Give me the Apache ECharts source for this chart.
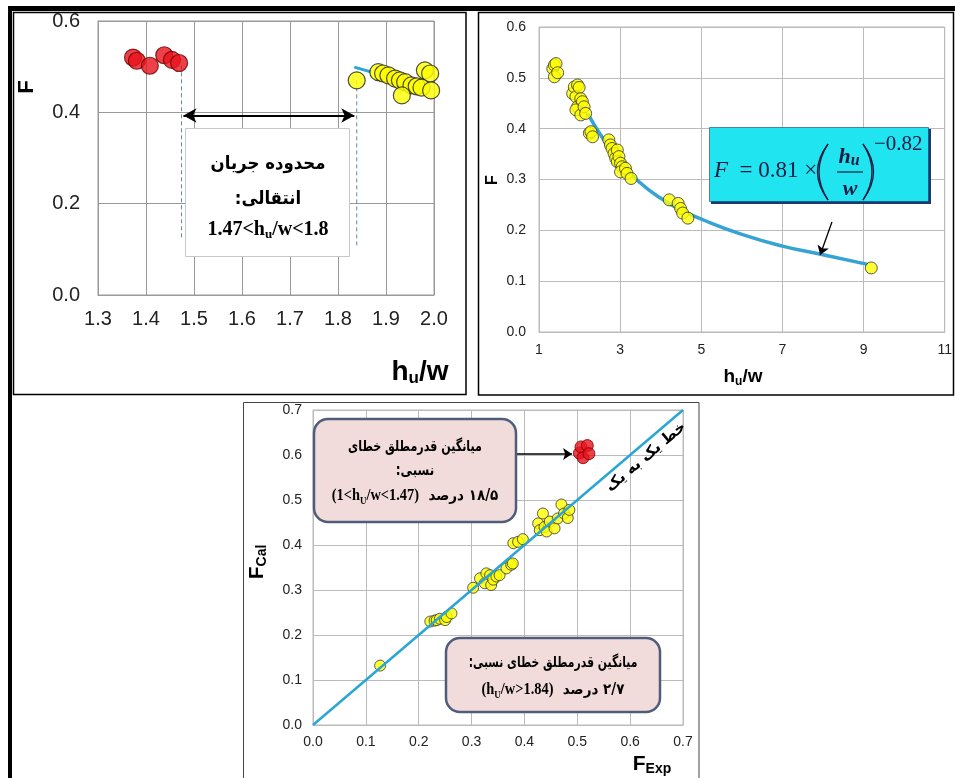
<!DOCTYPE html>
<html><head><meta charset="utf-8">
<script src="https://cdn.jsdelivr.net/npm/echarts@6/dist/echarts.min.js"></script>
<style>html,body{margin:0;padding:0;background:#fff}#c{width:955px;height:778px}</style>
</head><body><div id="c"></div>
<script>
// ---------- Panel 1: F vs hu/w (transition zone) ----------
const p1RedX = [1.373, 1.381, 1.408, 1.438, 1.454, 1.469];
const p1RedY = [0.520, 0.513, 0.502, 0.525, 0.515, 0.508];
const p1YelX = [1.839, 1.884, 1.894, 1.905, 1.919, 1.929, 1.940, 1.953, 1.964, 1.933, 1.981, 1.992, 1.974, 1.994];
const p1YelY = [0.470, 0.488, 0.485, 0.481, 0.474, 0.470, 0.466, 0.459, 0.457, 0.437, 0.492, 0.485, 0.454, 0.448];
const p1FitX = [1.834, 1.870];
const p1FitY = [0.499, 0.488];
const p1LimitLo = 1.474, p1LimitHi = 1.839;
// ---------- Panel 2: F vs hu/w (all data with fit) ----------
const p2X = [1.34,1.38,1.42,1.38,1.46, 1.83,1.87,1.91,1.95,1.99,1.95,2.03,2.07,1.91,2.03,2.11,2.15, 2.24,2.28,2.32,
             2.72,2.76,2.80,2.85,2.89,2.93,2.93,2.97,3.01,3.05,3.01,3.13,3.17,3.27, 4.21,4.43,4.49,4.54,4.67, 9.19];
const p2Y = [0.518,0.525,0.528,0.502,0.510, 0.469,0.482,0.463,0.486,0.481,0.443,0.459,0.453,0.437,0.427,0.443,0.430, 0.391,0.394,0.384,
             0.378,0.368,0.361,0.351,0.342,0.358,0.335,0.345,0.332,0.325,0.315,0.322,0.312,0.302, 0.260,0.253,0.243,0.234,0.224, 0.126];
const p2FitX = [2.2, 2.5, 3.0, 3.5, 4.0, 4.5, 5.0, 6.0, 7.0, 8.0, 9.1];
const p2FitY = [0.430, 0.390, 0.334, 0.293, 0.263, 0.240, 0.222, 0.192, 0.169, 0.152, 0.133];
// ---------- Panel 3: F_Cal vs F_Exp ----------
const p3X = [0.127, 0.222,0.230,0.234,0.240,0.250,0.253,0.262, 0.303,0.316,0.325,0.328,0.335,0.337,0.341,0.347,0.353,0.366,0.375,0.378,
             0.379,0.388,0.397, 0.426,0.429,0.435,0.438,0.442,0.448,0.457,0.463,0.470,0.475,0.482,0.485];
const p3Y = [0.132, 0.230,0.232,0.233,0.236,0.233,0.240,0.248, 0.305,0.326,0.315,0.337,0.333,0.311,0.323,0.330,0.333,0.348,0.356,0.359,
             0.404,0.407,0.413, 0.448,0.433,0.470,0.440,0.430,0.452,0.437,0.459,0.490,0.470,0.460,0.478];
const p3RedX = [0.504, 0.507, 0.519, 0.511, 0.522];
const p3RedY = [0.604, 0.618, 0.621, 0.594, 0.603];
const oneX = [0, 0.7];
const oneY = [0, 0.7];

const zip = (a, b) => a.map((v, i) => [v, b[i]]);
const f1 = v => v.toFixed(1);
const f0 = v => String(Math.round(v));
const SANS = '"Liberation Sans", Arial, sans-serif';
const SERIF = '"Liberation Serif", "Times New Roman", serif';
const FA = '"DejaVu Sans", sans-serif';
const YEL = '#ffff00', RED = '#e8121c', LINE = '#29a6d6';
const EQ = '#1a1a40';

function axis(grid, min, max, interval, fs, margin, gridColor, fmt) {
  return {
    gridIndex: grid, type: 'value', min, max, interval,
    axisLine: { lineStyle: { color: gridColor } },
    axisTick: { show: false },
    splitLine: { show: true, lineStyle: { color: gridColor, width: 1 } },
    axisLabel: { fontSize: fs, fontFamily: SANS, color: '#222', margin, formatter: fmt }
  };
}
function txt(x, y, text, style, extra) {
  return Object.assign({ type: 'text', x, y, z: 120,
    style: Object.assign({ text, fill: '#000', align: 'center', verticalAlign: 'middle' }, style) }, extra || {});
}
function paren(x0, xm, y1, y2) {
  const ym = (y1 + y2) / 2;
  return [0, 3].map(d => ({ type: 'bezierCurve', z: 121,
    shape: { x1: x0, y1, x2: x0, y2, cpx1: xm + (xm < x0 ? -d : d), cpy1: ym },
    style: { stroke: EQ, lineWidth: 1.3, fill: null } }));
}
const RLM = '\u200F';

const option = {
  animation: false,
  backgroundColor: '#fff',
  grid: [
    { left: 98, top: 21, width: 336, height: 274, show: true, borderColor: '#999', borderWidth: 1 },
    { left: 539, top: 27, width: 410, height: 305, show: true, borderColor: '#bbb', borderWidth: 1 },
    { left: 313, top: 410, width: 370, height: 315, show: true, borderColor: '#bbb', borderWidth: 1 }
  ],
  xAxis: [
    axis(0, 1.3, 2.0, 0.1, 20, 14, '#999', f1),
    axis(1, 1, 11, 2, 14, 11, '#bbb', f0),
    axis(2, 0, 0.7, 0.1, 14, 10, '#bbb', f1)
  ],
  yAxis: [
    axis(0, 0, 0.6, 0.2, 20, 18, '#999', f1),
    axis(1, 0, 0.6, 0.1, 14, 13, '#bbb', f1),
    axis(2, 0, 0.7, 0.1, 14, 11, '#bbb', f1)
  ],
  series: [
    // panel 1
    { type: 'line', xAxisIndex: 0, yAxisIndex: 0, data: zip(p1FitX, p1FitY), showSymbol: false, silent: true,
      lineStyle: { color: LINE, width: 3 }, z: 2 },
    { type: 'line', xAxisIndex: 0, yAxisIndex: 0, data: [[p1LimitLo, 0.503], [p1LimitLo, 0.12]], showSymbol: false, silent: true,
      lineStyle: { color: '#5d88b3', width: 1, type: [4, 3] }, z: 2,
      markLine: { silent: true, symbol: ['arrow', 'arrow'], symbolSize: [11, 13], label: { show: false },
        lineStyle: { color: '#000', width: 2.2, type: 'solid' },
        data: [[{ coord: [1.478, 0.393] }, { coord: [1.834, 0.393] }]] } },
    { type: 'line', xAxisIndex: 0, yAxisIndex: 0, data: [[p1LimitHi, 0.47], [p1LimitHi, 0.104]], showSymbol: false, silent: true,
      lineStyle: { color: '#5d88b3', width: 1, type: [4, 3] }, z: 2 },
    { type: 'scatter', xAxisIndex: 0, yAxisIndex: 0, data: zip(p1RedX, p1RedY), symbolSize: 17,
      itemStyle: { color: RED, borderColor: '#6a0000', borderWidth: 1.2 }, z: 3 },
    { type: 'scatter', xAxisIndex: 0, yAxisIndex: 0, data: zip(p1YelX, p1YelY), symbolSize: 17,
      itemStyle: { color: YEL, borderColor: '#222', borderWidth: 1.2 }, z: 3 },
    // panel 2
    { type: 'line', xAxisIndex: 1, yAxisIndex: 1, data: zip(p2FitX, p2FitY), smooth: true, showSymbol: false, silent: true,
      lineStyle: { color: '#35a3d4', width: 3.5 }, z: 2,
      markLine: { silent: true, symbol: ['none', 'arrow'], symbolSize: 9, label: { show: false },
        lineStyle: { color: '#000', width: 1.3, type: 'solid' },
        data: [[{ coord: [8.22, 0.2165] }, { coord: [7.93, 0.1516] }]] } },
    { type: 'scatter', xAxisIndex: 1, yAxisIndex: 1, data: zip(p2X, p2Y), symbolSize: 12,
      itemStyle: { color: YEL, borderColor: '#333', borderWidth: 1 }, z: 3 },
    // panel 3
    { type: 'scatter', xAxisIndex: 2, yAxisIndex: 2, data: zip(p3X, p3Y), symbolSize: 11,
      itemStyle: { color: YEL, borderColor: '#333', borderWidth: 1 }, z: 3 },
    { type: 'scatter', xAxisIndex: 2, yAxisIndex: 2, data: zip(p3RedX, p3RedY), symbolSize: 12,
      itemStyle: { color: RED, borderColor: '#7a0000', borderWidth: 1 }, z: 3 },
    { type: 'line', xAxisIndex: 2, yAxisIndex: 2, data: zip(oneX, oneY), showSymbol: false, silent: true,
      lineStyle: { color: LINE, width: 2.5 }, z: 4,
      markLine: { silent: true, symbol: ['none', 'arrow'], symbolSize: 9, label: { show: false },
        lineStyle: { color: '#000', width: 1.5, type: 'solid' },
        data: [[{ coord: [0.385, 0.602] }, { coord: [0.49, 0.602] }]] } }
  ],
  graphic: [
    // frames
    { type: 'rect', z: 200, shape: { x: 8, y: 6, width: 947, height: 5 }, style: { fill: '#000' } },
    { type: 'rect', z: 200, shape: { x: 8, y: 6, width: 4, height: 772 }, style: { fill: '#000' } },
    { type: 'rect', z: 200, shape: { x: 13.5, y: 12.5, width: 452.5, height: 382 }, style: { fill: null, stroke: '#000', lineWidth: 1.5 } },
    { type: 'rect', z: 200, shape: { x: 478.5, y: 12.5, width: 475, height: 382.5 }, style: { fill: null, stroke: '#000', lineWidth: 1.5 } },
    { type: 'rect', z: 200, shape: { x: 243.5, y: 402.5, width: 455.5, height: 380 }, style: { fill: null, stroke: '#444', lineWidth: 1 } },

    // panel 1 axis names
    txt(27, 87, 'F', { font: 'bold 22px ' + SANS }, { rotation: Math.PI / 2 }),
    txt(420, 372, '{a|h}{s|u}{a|/w}', { rich: {
      a: { fontSize: 28, fontWeight: 'bold', fontFamily: SANS, lineHeight: 30 },
      s: { fontSize: 17, fontWeight: 'bold', fontFamily: SANS, lineHeight: 10, verticalAlign: 'bottom' } } }),
    // panel 1 text box
    { type: 'rect', z: 110, shape: { x: 185.5, y: 128.5, width: 164, height: 128 }, style: { fill: '#fff', stroke: '#c8c8c8', lineWidth: 1 } },
    txt(268, 164, 'محدوده جریان', { font: 'bold 18px ' + FA }, { scaleX: 0.92 }),
    txt(268, 199, 'انتقالی:' + RLM, { font: 'bold 18px ' + FA }, { scaleX: 0.92 }),
    txt(268, 230, '{a|1.47<h}{s|u}{a|/w<1.8}', { rich: {
      a: { fontSize: 20, fontWeight: 'bold', fontFamily: SERIF, lineHeight: 22 },
      s: { fontSize: 13, fontWeight: 'bold', fontFamily: SERIF, lineHeight: 10, verticalAlign: 'bottom' } } }),

    // panel 2 axis names
    txt(493, 180, 'F', { font: 'bold 16px ' + SANS }, { rotation: Math.PI / 2 }),
    txt(743, 377, '{a|h}{s|u}{a|/w}', { rich: {
      a: { fontSize: 19, fontWeight: 'bold', fontFamily: SANS, lineHeight: 22 },
      s: { fontSize: 12, fontWeight: 'bold', fontFamily: SANS, lineHeight: 8, verticalAlign: 'bottom' } } }),
    // equation box
    { type: 'rect', z: 110, shape: { x: 711, y: 129, width: 220, height: 75 }, style: { fill: '#1c3a70' } },
    { type: 'rect', z: 111, shape: { x: 709.5, y: 127.5, width: 219, height: 74 }, style: { fill: '#20e4f0', stroke: '#1c3a70', lineWidth: 0.6 } },
    txt(714, 171, '{i|F}{n|  = 0.81 ×}', { align: 'left', rich: {
      i: { fontSize: 23, fontStyle: 'italic', fontFamily: SERIF, fill: EQ },
      n: { fontSize: 23, fontFamily: SERIF, fill: EQ } } }),
    ...paren(828, 810, 144, 200),
    ...paren(863, 881, 144, 200),
    txt(849, 157, '{i|h}{s|u}', { rich: {
      i: { fontSize: 22, fontStyle: 'italic', fontWeight: 'bold', fontFamily: SERIF, fill: EQ, lineHeight: 24 },
      s: { fontSize: 16, fontStyle: 'italic', fontWeight: 'bold', fontFamily: SERIF, fill: EQ, lineHeight: 10, verticalAlign: 'bottom' } } }),
    { type: 'line', z: 121, shape: { x1: 837, y1: 172, x2: 863, y2: 172 }, style: { stroke: EQ, lineWidth: 1.2 } },
    txt(850, 189, 'w', { font: 'italic bold 22px ' + SERIF, fill: EQ }),
    txt(874, 144, '−0.82', { align: 'left', font: '21px ' + SERIF, fill: EQ }),

    // panel 3 axis names
    txt(257, 562, '{a|F}{s|Cal}', { rich: {
      a: { fontSize: 21, fontWeight: 'bold', fontFamily: SANS, lineHeight: 24 },
      s: { fontSize: 14, fontWeight: 'bold', fontFamily: SANS, lineHeight: 10, verticalAlign: 'bottom' } } }, { rotation: Math.PI / 2 }),
    txt(652, 764, '{a|F}{s|Exp}', { rich: {
      a: { fontSize: 21, fontWeight: 'bold', fontFamily: SANS, lineHeight: 24 },
      s: { fontSize: 14, fontWeight: 'bold', fontFamily: SANS, lineHeight: 10, verticalAlign: 'bottom' } } }),
    // 1:1 label
    txt(646, 457, 'خط یک به یک', { font: 'bold 15px ' + FA }, { rotation: 0.70 }),
    // box 1
    { type: 'rect', z: 110, shape: { x: 314, y: 419, width: 202, height: 103, r: 14 }, style: { fill: '#f2dcdb', stroke: '#4f5d7a', lineWidth: 2.5 } },
    txt(415, 447, 'میانگین قدرمطلق خطای', { font: 'bold 15px ' + FA }, { scaleX: 0.74 }),
    txt(415, 471, 'نسبی:' + RLM, { font: 'bold 15px ' + FA }, { scaleX: 0.8 }),
    txt(415, 496, '{l|(1<h}{s|U}{l|/w<1.47)}{p|  درصد }{p|۱۸/۵}', { rich: {
      l: { fontSize: 16, fontWeight: 'bold', fontFamily: SERIF, lineHeight: 20 },
      s: { fontSize: 10, fontWeight: 'bold', fontFamily: SERIF, lineHeight: 8, verticalAlign: 'bottom' },
      p: { fontSize: 15, fontWeight: 'bold', fontFamily: FA, lineHeight: 20 } } }, { scaleX: 0.9 }),
    // box 2
    { type: 'rect', z: 110, shape: { x: 446, y: 638, width: 214, height: 74, r: 14 }, style: { fill: '#f2dcdb', stroke: '#4f5d7a', lineWidth: 2.5 } },
    txt(553, 663, 'میانگین قدرمطلق خطای نسبی:' + RLM, { font: 'bold 15px ' + FA }, { scaleX: 0.72 }),
    txt(553, 690, '{l|(h}{s|U}{l|/w>1.84)}{p|  درصد }{p|۲/۷}', { rich: {
      l: { fontSize: 16, fontWeight: 'bold', fontFamily: SERIF, lineHeight: 20 },
      s: { fontSize: 10, fontWeight: 'bold', fontFamily: SERIF, lineHeight: 8, verticalAlign: 'bottom' },
      p: { fontSize: 15, fontWeight: 'bold', fontFamily: FA, lineHeight: 20 } } }, { scaleX: 0.9 })
  ]
};
const chart = echarts.init(document.getElementById('c'), null, { renderer: 'canvas' });
chart.setOption(option);
</script>
</body></html>
